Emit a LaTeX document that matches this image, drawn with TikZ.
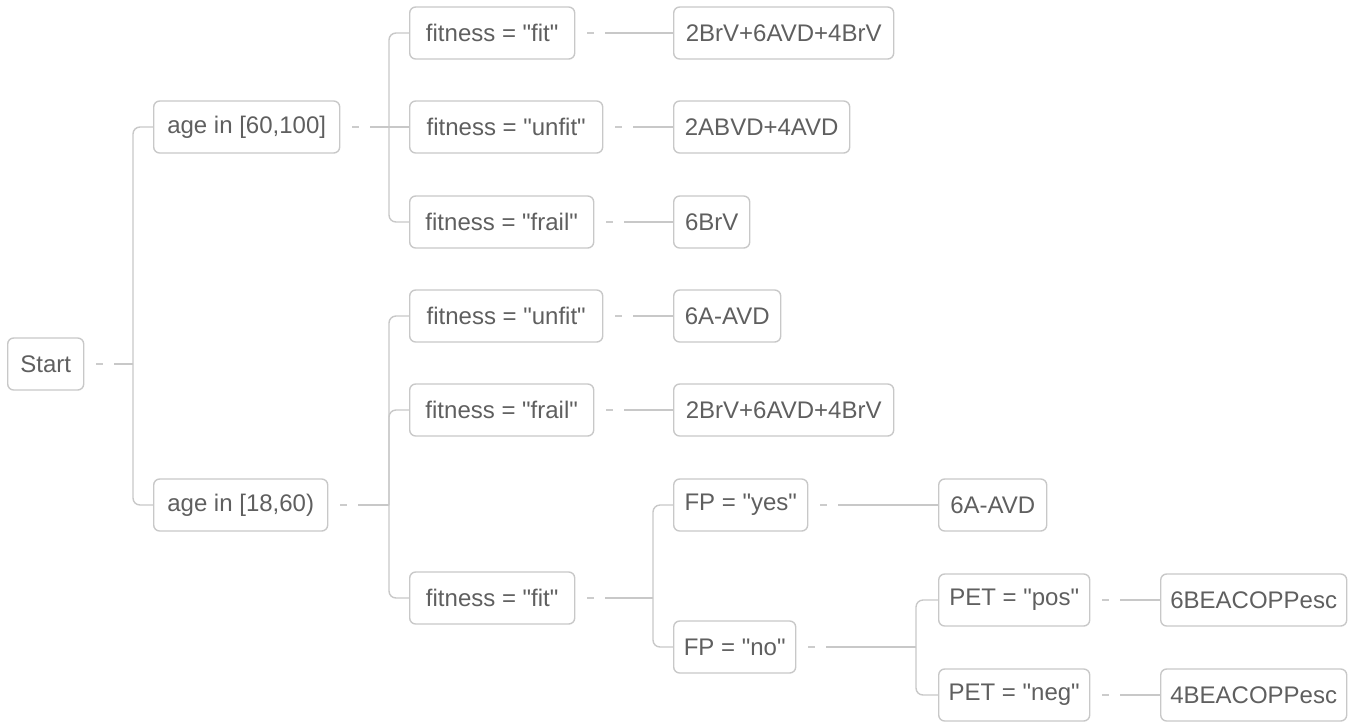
\documentclass[tikz,border=0pt]{standalone}
\usepackage{fontspec}
\newfontfamily\plainfont{Liberation Sans}
\definecolor{edgegray}{HTML}{C8C8C8}
\definecolor{txtgray}{HTML}{5F5F5F}
\definecolor{dashgray}{HTML}{CCCCCC}
\begin{document}
\begin{tikzpicture}[x=1pt,y=-1pt,
  box/.style={draw=edgegray, line width=1.4pt, rounded corners=6pt, anchor=west,
    minimum height=52pt, inner sep=0pt, text=txtgray,
    font=\fontsize{24}{28}\plainfont},
  conn/.style={draw=edgegray, line width=1.4pt},
  stub/.style={draw=dashgray, line width=1.6pt},
  bus/.style={draw=edgegray, line width=1.4pt, rounded corners=7pt}]
\useasboundingbox (0,0) rectangle (1354,724);
% nodes
\node[box, minimum width=76pt]  (start) at (7,364) {Start};
\node[box, minimum width=186pt] (a1) at (153,127) {age in [60,100]};
\node[box, minimum width=174pt] (a2) at (153,505) {age in [18,60)};
\node[box, minimum width=165pt] (f1) at (409,33)  {fitness = "fit"};
\node[box, minimum width=193pt] (f2) at (409,127) {fitness = "unfit"};
\node[box, minimum width=184pt] (f3) at (409,222) {fitness = "frail"};
\node[box, minimum width=220pt] (l1) at (673,33)  {2BrV+6AVD+4BrV};
\node[box, minimum width=176pt] (l2) at (673,127) {2ABVD+4AVD};
\node[box, minimum width=76pt]  (l3) at (673,222) {6BrV};
\node[box, minimum width=193pt] (g1) at (409,316) {fitness = "unfit"};
\node[box, minimum width=184pt] (g2) at (409,410) {fitness = "frail"};
\node[box, minimum width=165pt] (g3) at (409,598) {fitness = "fit"};
\node[box, minimum width=107pt] (m1) at (673,316) {6A-AVD};
\node[box, minimum width=220pt] (m2) at (673,410) {2BrV+6AVD+4BrV};
\node[box, minimum width=134pt] (fy) at (673,505) {FP = "yes"};
\node[box, minimum width=122pt] (fn) at (673,647) {FP = "no"};
\node[box, minimum width=108pt] (n1) at (938,505) {6A-AVD};
\node[box, minimum width=151pt] (pp) at (938,600) {PET = "pos"};
\node[box, minimum width=151pt] (pn) at (938,695) {PET = "neg"};
\node[box, minimum width=186pt] (o1) at (1160,600) {6BEACOPPesc};
\node[box, minimum width=186pt] (o2) at (1160,695) {4BEACOPPesc};
% bus points
\coordinate (bStart) at (133,364);
\coordinate (bA1) at (389,127);
\coordinate (bA2) at (389,505);
\coordinate (bG3) at (653,598);
\coordinate (bFN) at (916,647);
% stubs
\foreach \p in {start,a1,a2,f1,f2,f3,g1,g2,g3,fy,fn,pp,pn}{
  \draw[stub] ([xshift=12pt]\p.east) -- ([xshift=19pt]\p.east);
}
% parent to bus / leaf
\draw[conn] ([xshift=30pt]start.east) -- (bStart);
\draw[conn] ([xshift=30pt]a1.east) -- (bA1);
\draw[conn] ([xshift=30pt]a2.east) -- (bA2);
\draw[conn] ([xshift=30pt]g3.east) -- (bG3);
\draw[conn] ([xshift=30pt]fn.east) -- (bFN);
\draw[conn] ([xshift=30pt]f1.east) -- (l1.west);
\draw[conn] ([xshift=30pt]f2.east) -- (l2.west);
\draw[conn] ([xshift=30pt]f3.east) -- (l3.west);
\draw[conn] ([xshift=30pt]g1.east) -- (m1.west);
\draw[conn] ([xshift=30pt]g2.east) -- (m2.west);
\draw[conn] ([xshift=30pt]fy.east) -- (n1.west);
\draw[conn] ([xshift=30pt]pp.east) -- (o1.west);
\draw[conn] ([xshift=30pt]pn.east) -- (o2.west);
% buses
\draw[bus] (bStart) |- (a1.west);
\draw[bus] (bStart) |- (a2.west);
\draw[bus] (bA1) |- (f1.west);
\draw[bus] (bA1) -- (f2.west);
\draw[bus] (bA1) |- (f3.west);
\draw[bus] (bA2) |- (g1.west);
\draw[bus] (bA2) |- (g2.west);
\draw[bus] (bA2) |- (g3.west);
\draw[bus] (bG3) |- (fy.west);
\draw[bus] (bG3) |- (fn.west);
\draw[bus] (bFN) |- (pp.west);
\draw[bus] (bFN) |- (pn.west);
\end{tikzpicture}
\end{document}
